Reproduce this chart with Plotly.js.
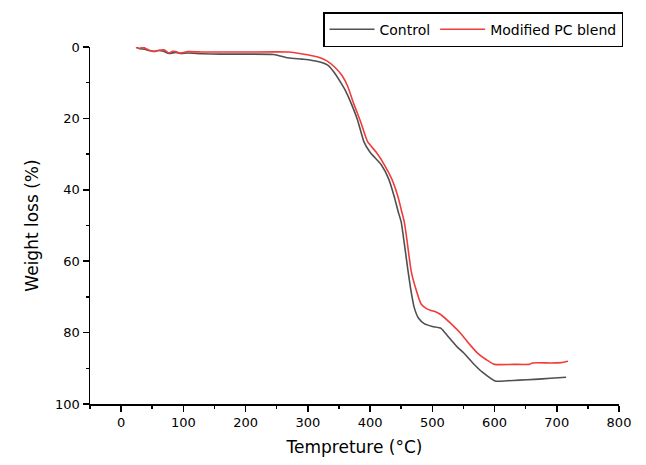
<!DOCTYPE html>
<html>
<head>
<meta charset="utf-8">
<script src="https://cdn.plot.ly/plotly-3.0.1.min.js"></script>
<style>html,body{margin:0;padding:0;background:#fff;}#chart{width:646px;height:465px;}</style>
</head>
<body>
<div id="chart"></div>
<script>
// Control series
const controlTemp = [24, 30, 38, 45, 53, 60, 68, 77, 88, 96, 107, 130, 160, 200, 245, 268, 290, 305, 321, 332, 343, 353, 361, 369, 380, 390, 400, 418, 430, 439, 445, 450, 455, 461, 466, 471, 478, 487, 500, 514, 525, 540, 551, 565, 580, 602, 620, 640, 664, 690, 715];
const controlLoss = [0.1, 0.5, 0.6, 1.0, 1.2, 1.0, 1.2, 1.8, 1.5, 1.8, 1.7, 1.9, 2.0, 2.0, 2.1, 3.0, 3.4, 3.7, 4.3, 5.1, 7.3, 10.0, 12.4, 15.5, 20.5, 26.5, 29.5, 33, 37, 42, 46, 49, 55, 62.7, 68.5, 73, 76, 77.5, 78.3, 78.8, 81, 84, 85.8, 88.5, 91, 93.6, 93.5, 93.3, 93.1, 92.8, 92.5];
// Modified PC blend series
const modTemp = [24, 30, 35, 40, 45, 53, 61, 69, 77, 83, 88, 96, 107, 130, 200, 270, 289, 316, 330, 343, 355, 364, 374, 385, 396, 410, 423, 435, 445, 450, 455, 460, 466, 474, 482, 490, 498, 506, 514, 530, 546, 560, 573, 587, 600, 630, 656, 661, 690, 707, 718];
const modLoss = [0.1, 0.4, 0.0, 0.5, 0.9, 1.3, 0.9, 0.8, 1.7, 1.2, 1.3, 1.7, 1.3, 1.4, 1.4, 1.4, 1.9, 2.8, 3.8, 5.6, 8.0, 11, 16, 21, 26.5, 29.5, 33, 37, 42, 45.5, 49, 55, 62.7, 68, 72, 73.2, 73.8, 74.2, 75, 77.5, 80.3, 83.3, 85.8, 87.6, 88.9, 88.9, 88.9, 88.5, 88.5, 88.4, 88];
const seriesNames = ["Control", "Modified PC blend"];
const xTickVals = [0, 100, 200, 300, 400, 500, 600, 700, 800];
const yTickVals = [0, 20, 40, 60, 80, 100];

const FONT = "DejaVu Sans, Verdana, sans-serif";

const traces = [
  {x: controlTemp, y: controlLoss, name: seriesNames[0], mode: "lines", line: {color: "#505050", width: 1.6, shape: "spline", smoothing: 0.5}},
  {x: modTemp, y: modLoss, name: seriesNames[1], mode: "lines", line: {color: "#f03c3c", width: 1.6, shape: "spline", smoothing: 0.5}}
];

const axisCommon = {
  showgrid: false, zeroline: false, showline: true, linecolor: "#000", linewidth: 1.5,
  ticks: "outside", ticklen: 6, tickwidth: 1.5, tickcolor: "#000",
  tickfont: {family: FONT, size: 13, color: "#000"}
};

const layout = {
  width: 646, height: 465,
  margin: {l: 90, r: 27, t: 45, b: 61},
  paper_bgcolor: "#fff", plot_bgcolor: "#fff",
  font: {family: FONT, color: "#000"},
  xaxis: Object.assign({}, axisCommon, {
    range: [-50, 800], tickvals: xTickVals,
    minor: {dtick: 50, tick0: 0, ticks: "outside", ticklen: 3, tickwidth: 1.5, tickcolor: "#000"},
    title: {text: "Tempreture (°C)", font: {family: FONT, size: 17, color: "#000"}, standoff: 12}
  }),
  yaxis: Object.assign({}, axisCommon, {
    range: [100, 0], tickvals: yTickVals,
    minor: {dtick: 10, tick0: 0, ticks: "outside", ticklen: 3, tickwidth: 1.5, tickcolor: "#000"},
    title: {text: "Weight loss (%)", font: {family: FONT, size: 17, color: "#000"}, standoff: 12}
  }),
  showlegend: true,
  legend: {
    orientation: "h", x: 1.0076, xanchor: "right", y: 1.0975, yanchor: "top",
    bgcolor: "#fff", bordercolor: "#000", borderwidth: 1.5,
    font: {family: FONT, size: 14, color: "#000"}, itemwidth: 45, tracegroupgap: 0
  }
};

Plotly.newPlot("chart", traces, layout, {displayModeBar: false, staticPlot: true});
</script>
</body>
</html>
